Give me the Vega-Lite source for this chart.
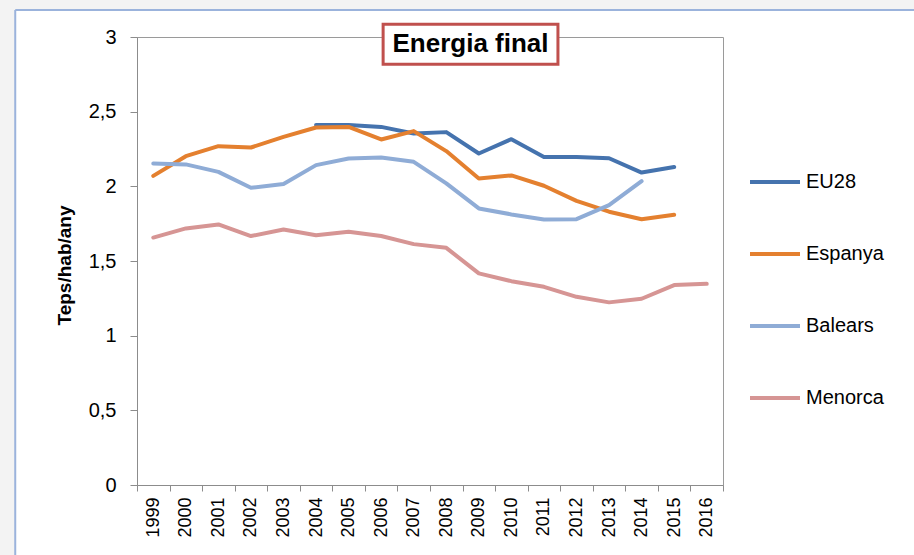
{
  "$schema": "https://vega.github.io/schema/vega-lite/v6.json",
  "width": 586,
  "height": 448,
  "autosize": {"type": "none"},
  "padding": {"left": 137, "top": 37, "right": 191, "bottom": 70},
  "background": "white",
  "config": {
    "font": "Liberation Sans",
    "view": {"stroke": "#9a9a9a", "strokeWidth": 1}
  },
  "resolve": {"scale": {"x": "independent", "y": "independent"}, "axis": {"x": "independent", "y": "independent"}},
  "datasets": {
    "series": [
      {"year": 2004, "serie": "EU28", "value": 2.41},
      {"year": 2005, "serie": "EU28", "value": 2.41},
      {"year": 2006, "serie": "EU28", "value": 2.398},
      {"year": 2007, "serie": "EU28", "value": 2.354},
      {"year": 2008, "serie": "EU28", "value": 2.363},
      {"year": 2009, "serie": "EU28", "value": 2.22},
      {"year": 2010, "serie": "EU28", "value": 2.316},
      {"year": 2011, "serie": "EU28", "value": 2.197},
      {"year": 2012, "serie": "EU28", "value": 2.197},
      {"year": 2013, "serie": "EU28", "value": 2.188},
      {"year": 2014, "serie": "EU28", "value": 2.092},
      {"year": 2015, "serie": "EU28", "value": 2.13},
      {"year": 1999, "serie": "Espanya", "value": 2.07},
      {"year": 2000, "serie": "Espanya", "value": 2.202},
      {"year": 2001, "serie": "Espanya", "value": 2.269},
      {"year": 2002, "serie": "Espanya", "value": 2.26},
      {"year": 2003, "serie": "Espanya", "value": 2.331},
      {"year": 2004, "serie": "Espanya", "value": 2.394},
      {"year": 2005, "serie": "Espanya", "value": 2.398},
      {"year": 2006, "serie": "Espanya", "value": 2.314},
      {"year": 2007, "serie": "Espanya", "value": 2.37},
      {"year": 2008, "serie": "Espanya", "value": 2.236},
      {"year": 2009, "serie": "Espanya", "value": 2.053},
      {"year": 2010, "serie": "Espanya", "value": 2.073},
      {"year": 2011, "serie": "Espanya", "value": 2.004},
      {"year": 2012, "serie": "Espanya", "value": 1.903},
      {"year": 2013, "serie": "Espanya", "value": 1.83},
      {"year": 2014, "serie": "Espanya", "value": 1.78},
      {"year": 2015, "serie": "Espanya", "value": 1.809},
      {"year": 1999, "serie": "Balears", "value": 2.153},
      {"year": 2000, "serie": "Balears", "value": 2.147},
      {"year": 2001, "serie": "Balears", "value": 2.097},
      {"year": 2002, "serie": "Balears", "value": 1.99},
      {"year": 2003, "serie": "Balears", "value": 2.015},
      {"year": 2004, "serie": "Balears", "value": 2.142},
      {"year": 2005, "serie": "Balears", "value": 2.186},
      {"year": 2006, "serie": "Balears", "value": 2.193},
      {"year": 2007, "serie": "Balears", "value": 2.164},
      {"year": 2008, "serie": "Balears", "value": 2.02},
      {"year": 2009, "serie": "Balears", "value": 1.852},
      {"year": 2010, "serie": "Balears", "value": 1.812},
      {"year": 2011, "serie": "Balears", "value": 1.778},
      {"year": 2012, "serie": "Balears", "value": 1.78},
      {"year": 2013, "serie": "Balears", "value": 1.874},
      {"year": 2014, "serie": "Balears", "value": 2.035},
      {"year": 1999, "serie": "Menorca", "value": 1.657},
      {"year": 2000, "serie": "Menorca", "value": 1.718},
      {"year": 2001, "serie": "Menorca", "value": 1.745},
      {"year": 2002, "serie": "Menorca", "value": 1.667},
      {"year": 2003, "serie": "Menorca", "value": 1.711},
      {"year": 2004, "serie": "Menorca", "value": 1.673},
      {"year": 2005, "serie": "Menorca", "value": 1.696},
      {"year": 2006, "serie": "Menorca", "value": 1.667},
      {"year": 2007, "serie": "Menorca", "value": 1.613},
      {"year": 2008, "serie": "Menorca", "value": 1.588},
      {"year": 2009, "serie": "Menorca", "value": 1.417},
      {"year": 2010, "serie": "Menorca", "value": 1.365},
      {"year": 2011, "serie": "Menorca", "value": 1.327},
      {"year": 2012, "serie": "Menorca", "value": 1.26},
      {"year": 2013, "serie": "Menorca", "value": 1.223},
      {"year": 2014, "serie": "Menorca", "value": 1.247},
      {"year": 2015, "serie": "Menorca", "value": 1.339},
      {"year": 2016, "serie": "Menorca", "value": 1.347}
    ],
    "margins": [
      {"x1": 1990, "x2": 1994.76, "y1": -1, "y2": 4},
      {"x1": 1990, "x2": 2030, "y1": 3.18, "y2": 4}
    ],
    "edges": [
      {"x1": 1994.76, "x2": 1994.76, "y1": 3.18, "y2": -1},
      {"x1": 1994.76, "x2": 2030, "y1": 3.18, "y2": 3.18}
    ],
    "titlebox": [
      {"x1": 2006.06, "x2": 2011.43, "y1": 3.086, "y2": 2.818, "xc": 2008.745, "yc": 2.952, "label": "Energia final"}
    ]
  },
  "layer": [
    {
      "data": {"name": "margins"},
      "mark": {"type": "rect", "fill": "#f3f3f3", "clip": false},
      "encoding": {
        "x": {"field": "x1", "type": "quantitative", "scale": {"domain": [1998.5, 2016.5], "nice": false, "zero": false}, "axis": null},
        "x2": {"field": "x2"},
        "y": {"field": "y1", "type": "quantitative", "scale": {"domain": [0, 3], "nice": false}, "axis": null},
        "y2": {"field": "y2"}
      }
    },
    {
      "data": {"name": "edges"},
      "mark": {"type": "rule", "stroke": "#9bb3dc", "strokeWidth": 2, "clip": false},
      "encoding": {
        "x": {"field": "x1", "type": "quantitative", "scale": {"domain": [1998.5, 2016.5], "nice": false, "zero": false}, "axis": null},
        "x2": {"field": "x2"},
        "y": {"field": "y1", "type": "quantitative", "scale": {"domain": [0, 3], "nice": false}, "axis": null},
        "y2": {"field": "y2"}
      }
    },
    {
      "data": {"name": "series"},
      "mark": {"type": "line", "strokeWidth": 4, "strokeJoin": "round", "strokeCap": "round", "clip": false},
      "encoding": {
        "x": {
          "field": "year",
          "type": "quantitative",
          "scale": {"domain": [1998.5, 2016.5], "nice": false, "zero": false},
          "axis": {
            "title": null,
            "values": [1998.5, 1999.5, 2000.5, 2001.5, 2002.5, 2003.5, 2004.5, 2005.5, 2006.5, 2007.5, 2008.5, 2009.5, 2010.5, 2011.5, 2012.5, 2013.5, 2014.5, 2015.5, 2016.5],
            "labelExpr": "datum.value < 2016 ? format(datum.value + 0.5, 'd') : ''",
            "labelOffset": 16.3,
            "labelAngle": 270,
            "labelAlign": "right",
            "labelBaseline": "middle",
            "labelPadding": 6,
            "labelFontSize": 18,
            "labelColor": "#000000",
            "labelFlush": false,
            "labelOverlap": false,
            "labelSeparation": -40,
            "labelBound": false,
            "grid": false,
            "tickSize": 6,
            "tickColor": "#8c8c8c",
            "domainColor": "#8c8c8c"
          }
        },
        "y": {
          "field": "value",
          "type": "quantitative",
          "scale": {"domain": [0, 3], "nice": false},
          "axis": {
            "title": "Teps/hab/any",
            "titleFontSize": 19,
            "titleFontWeight": "bold",
            "titleColor": "#000000",
            "titleX": -73,
            "titleY": 228,
            "titleAngle": 270,
            "titleAlign": "center",
            "titleBaseline": "middle",
            "values": [0, 0.5, 1, 1.5, 2, 2.5, 3],
            "labelExpr": "replace(format(datum.value, ''), '.', ',')",
            "labelFontSize": 20,
            "labelColor": "#000000",
            "labelPadding": 14,
            "labelFlush": false,
            "tickSize": 7,
            "tickColor": "#8c8c8c",
            "domainColor": "#8c8c8c",
            "gridColor": "#9a9a9a"
          }
        },
        "color": {
          "field": "serie",
          "type": "nominal",
          "scale": {
            "domain": ["EU28", "Espanya", "Balears", "Menorca"],
            "range": ["#4573ae", "#e4802f", "#8facd6", "#d69594"]
          },
          "legend": {
            "title": null,
            "orient": "none",
            "legendX": 611,
            "legendY": 118,
            "symbolType": "stroke",
            "symbolSize": 2500,
            "symbolStrokeWidth": 4,
            "labelFontSize": 20,
            "labelColor": "#000000",
            "labelOffset": 4,
            "rowPadding": 35
          }
        }
      }
    },
    {
      "data": {"name": "titlebox"},
      "mark": {"type": "rect", "fill": "white", "stroke": "#c0504d", "strokeWidth": 3, "clip": false},
      "encoding": {
        "x": {"field": "x1", "type": "quantitative", "scale": {"domain": [1998.5, 2016.5], "nice": false, "zero": false}, "axis": null},
        "x2": {"field": "x2"},
        "y": {"field": "y1", "type": "quantitative", "scale": {"domain": [0, 3], "nice": false}, "axis": null},
        "y2": {"field": "y2"}
      }
    },
    {
      "data": {"name": "titlebox"},
      "mark": {"type": "text", "fontSize": 26, "fontWeight": "bold", "color": "#000000", "align": "center", "baseline": "middle"},
      "encoding": {
        "x": {"field": "xc", "type": "quantitative", "scale": {"domain": [1998.5, 2016.5], "nice": false, "zero": false}, "axis": null},
        "y": {"field": "yc", "type": "quantitative", "scale": {"domain": [0, 3], "nice": false}, "axis": null},
        "text": {"field": "label"}
      }
    }
  ]
}
